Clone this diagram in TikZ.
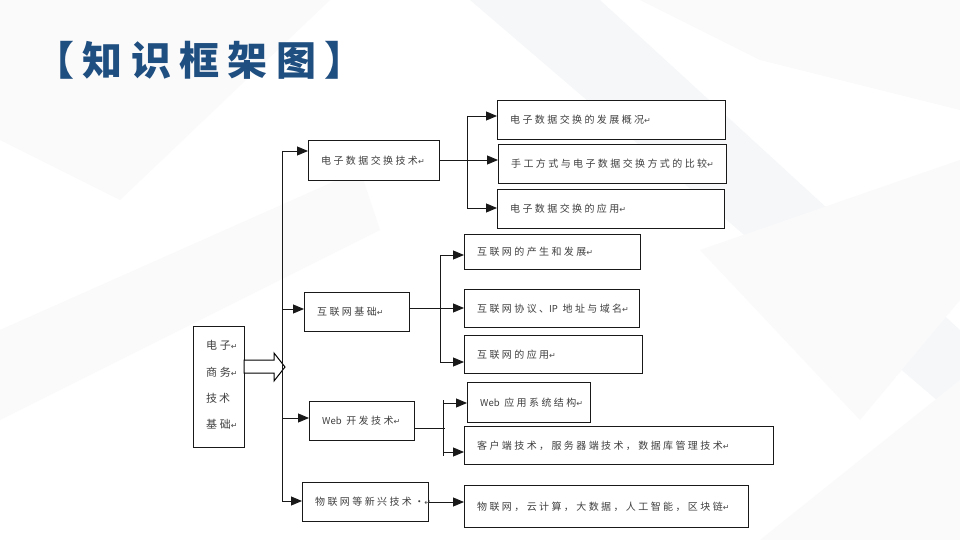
\documentclass[tikz,border=0pt]{standalone}
\usepackage{fontspec}
\usetikzlibrary{arrows.meta}
\newfontfamily\cjk[LetterSpace=24]{Noto Sans CJK SC}
\newfontfamily\cjkn{Noto Sans CJK SC}
\newfontfamily\cjkt[LetterSpace=21]{Noto Sans CJK SC}
\newfontfamily\dejavu{DejaVu Sans}
\definecolor{titleblue}{RGB}{31,78,128}
\definecolor{bgA}{RGB}{246,247,249}
\definecolor{bgB}{RGB}{250,250,251}
\newcommand\ret{{\dejavu\fontsize{8}{8}\selectfont\textcolor{black!70}{↵}}}
\newcommand\lat[1]{{\cjkn\fontsize{9.5}{12}\selectfont #1}}
\tikzset{
  box/.style={draw=black!90, line width=1pt, fill=white, anchor=north west, inner sep=0pt},
  lbl/.style={anchor=west, inner sep=0pt, text=black!75, font=\cjk\fontsize{10}{12}\selectfont},
  conn/.style={line width=0.9pt, draw=black!90},
  arr/.style={conn, -{Triangle[length=11pt,width=9pt]}}
}
\newcommand\bx[6]{%
  \node[box, minimum width=#4pt, minimum height=#5pt] (#1) at (#2,#3) {};
  \node[lbl] (#1t) at ([xshift=13pt]#1.west) {#6};}
\begin{document}
\begin{tikzpicture}[x=1pt,y=-1pt]
\useasboundingbox (0,0) rectangle (960,540);
\fill[white] (0,0) rectangle (960,540);
% faint background facets
\fill[bgB] (0,0) -- (330,0) -- (120,200) -- (0,140) -- cycle;
\fill[bgA] (470,0) -- (600,0) -- (960,330) -- (960,420) -- cycle;
\fill[bgB] (640,0) -- (960,0) -- (960,110) -- (760,60) -- cycle;
\fill[bgB] (700,250) -- (960,160) -- (960,300) -- (860,420) -- cycle;
\fill[bgB] (760,540) -- (960,380) -- (960,540) -- cycle;
\fill[bgB] (0,330) -- (360,170) -- (380,230) -- (0,420) -- cycle;
% title
\node[anchor=west, inner sep=0pt, text=titleblue, font=\cjkt\bfseries\fontsize{40}{40}\selectfont] (title) at (34,60) {【知识框架图】};
% main box
\node[box, minimum width=51pt, minimum height=121pt] (main) at (193,326) {};
\node[lbl, align=left, font=\cjk\fontsize{11}{26.3}\selectfont] (maint) at ([xshift=13pt,yshift=2pt]main.west) {电子\ret\\商务\ret\\技\hspace{2pt}术\\基础\ret};
% level 1
\bx{b1}{308}{140}{131}{40}{电子数据交换技术\ret}
\bx{b2}{304}{292}{105}{39}{互联网基础\ret}
\bx{b3}{309}{401}{105}{39}{\lat{Web}\ 开发技术\ret}
\bx{b4}{302}{482}{126}{39}{物联网等新兴技术·\ret}
% level 2
\bx{A}{497}{100}{228}{39}{电子数据交换的发展概况\ret}
\bx{B}{498}{144}{228}{39}{手工方式与电子数据交换方式的比较\ret}
\bx{C}{497}{189}{227}{39}{电子数据交换的应用\ret}
\bx{D}{464}{234}{176}{35}{互联网的产生和发展\ret}
\bx{E}{464}{289}{175}{38}{互联网协议、\lat{IP}\ 地址与域名\ret}
\bx{F}{464}{335}{178}{38}{互联网的应用\ret}
\bx{G}{467}{382}{123}{40}{\lat{Web}\ 应用系统结构\ret}
\bx{H}{464}{426}{309}{38}{客户端技术，服务器端技术，数据库管理技术\ret}
\bx{I}{464}{485}{284}{42}{物联网，云计算，大数据，人工智能，区块链\ret}
% hollow arrow from main box to trunk
\draw[line width=1pt, fill=white] (244,360) -- (274,360) -- (274,353) -- (285,367) -- (274,381) -- (274,373) -- (244,373) -- cycle;
% trunk
\coordinate (t1) at (282,151);
\coordinate (t2) at (282,309);
\coordinate (t3) at (282,418);
\coordinate (t4) at (282,501);
\draw[conn] (t1) -- (t4);
\draw[arr] (t1) -- (t1 -| b1.west);
\draw[arr] (t2) -- (t2 -| b2.west);
\draw[arr] (t3) -- (t3 -| b3.west);
\draw[arr] (t4) -- (t4 -| b4.west);
% branch 1
\coordinate (c1) at (467,116);
\coordinate (c2) at (467,160);
\coordinate (c3) at (467,208);
\draw[conn] (c1) -- (c3);
\draw[arr] (c1) -- (c1 -| A.west);
\draw[arr] (b1.east |- c2) -- (c2 -| B.west);
\draw[arr] (c3) -- (c3 -| C.west);
% branch 2
\coordinate (d1) at (440,255);
\coordinate (d2) at (440,308);
\coordinate (d3) at (440,362);
\draw[conn] (d1) -- (d3);
\draw[arr] (d1) -- (d1 -| D.west);
\draw[arr] (b2.east |- d2) -- (d2 -| E.west);
\draw[arr] (d3) -- (d3 -| F.west);
% branch 3
\coordinate (e1) at (443,403);
\coordinate (e2) at (445,428);
\coordinate (e3) at (443,452);
\draw[conn] (443,400) -- (443,456);
\draw[conn] (b3.east |- e2) -- (e2);
\draw[arr] (e1) -- (e1 -| G.west);
\draw[arr] (e3) -- (e3 -| H.west);
% branch 4
\draw[arr] (b4.east) -- (b4.east -| I.west);
\end{tikzpicture}
\end{document}
